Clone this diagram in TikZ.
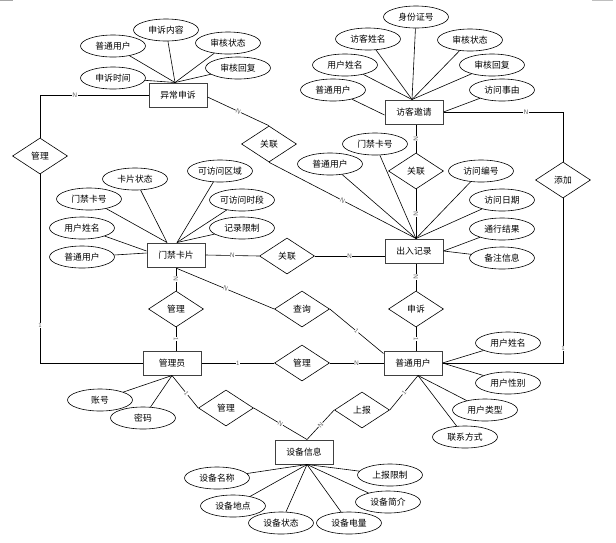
\documentclass[tikz,border=0pt]{standalone}
\usepackage{fontspec}
\newfontfamily\cjk{Noto Sans CJK SC}
\usetikzlibrary{shapes.geometric,calc}
\begin{document}
\begin{tikzpicture}[x=1pt,y=-1pt,
  every node/.style={font=\cjk\fontsize{8.8}{10}\selectfont},
  ent/.style={draw=black!75,line width=1pt,rectangle,minimum width=58pt,minimum height=24pt,inner sep=0pt},
  attr/.style={draw,ellipse,line width=0.6pt,minimum width=65pt,minimum height=22pt,inner sep=0pt},
  rel/.style={draw,diamond,line width=0.6pt,minimum width=55pt,minimum height=36pt,inner sep=0pt},
  lnk/.style={line width=0.6pt},
  mk/.style={font=\sffamily\fontsize{6.5}{7}\selectfont,text=black!60,fill=white,inner sep=0.4pt,sloped},
  mku/.style={font=\sffamily\fontsize{6.5}{7}\selectfont,text=black!60,fill=white,inner sep=0.4pt}]
\useasboundingbox (0,0) rectangle (616,542);
\fill[white] (0,0) rectangle (616,542);
\draw[black!35,line width=1pt] (0,0.5) coordinate (cm1) -- (13,0.5) coordinate (cm2);
\draw[black!25,line width=1pt] (592,0.5) coordinate (cm3) -- (613,0.5) coordinate (cm4);

% entities
\node[ent] (ycss) at (178,95) {异常申诉};
\node[ent] (fkyq) at (414,112) {访客邀请};
\node[ent] (mjkp) at (176,255) {门禁卡片};
\node[ent] (crjl) at (414,251) {出入记录};
\node[ent] (gly)  at (172,363) {管理员};
\node[ent] (ptyh) at (413,363) {普通用户};
\node[ent] (sbxx) at (304,452) {设备信息};

% relationships
\node[rel] (d1) at (40,156) {管理};
\node[rel] (d2) at (269,144) {关联};
\node[rel] (d3) at (416,171) {关联};
\node[rel] (d4) at (563,180) {添加};
\node[rel] (d5) at (287,256) {关联};
\node[rel] (d6) at (176,309) {管理};
\node[rel] (d7) at (302,309) {查询};
\node[rel] (d8) at (416,309) {申诉};
\node[rel] (d9) at (302,363) {管理};
\node[rel] (d10) at (226,408) {管理};
\node[rel] (d11) at (362,410) {上报};

% attributes of 异常申诉
\node[attr] (y1) at (113,46) {普通用户};
\node[attr] (y2) at (166,30) {申诉内容};
\node[attr] (y3) at (228,43) {审核状态};
\node[attr] (y4) at (238,68) {审核回复};
\node[attr] (y5) at (113,78) {申诉时间};
\coordinate (ycssT) at ($(ycss.north)+(-3,0)$);
\foreach \a in {y1,y2,y3,y4,y5} \draw[lnk] (\a) -- (ycssT);

% attributes of 访客邀请
\node[attr] (f1) at (416,17) {身份证号};
\node[attr] (f2) at (368,39) {访客姓名};
\node[attr] (f3) at (470,40) {审核状态};
\node[attr] (f4) at (345,65) {用户姓名};
\node[attr] (f5) at (492,65) {审核回复};
\node[attr] (f6) at (333,90) {普通用户};
\node[attr] (f7) at (502,90) {访问事由};
\coordinate (fkyqT) at ($(fkyq.north)+(-2,0)$);
\foreach \a in {f1,f2,f3,f4,f5} \draw[lnk] (\a) -- (fkyqT);
\draw[lnk] (f6) -- ($(fkyq.west)+(0,3)$);
\draw[lnk] (f7) -- (fkyq.east);

% attributes of 出入记录
\node[attr] (c1) at (375,144) {门禁卡号};
\node[attr] (c2) at (330,164) {普通用户};
\node[attr] (c3) at (481,171) {访问编号};
\node[attr] (c4) at (502,200) {访问日期};
\node[attr] (c5) at (502,229) {通行结果};
\node[attr] (c6) at (502,258) {备注信息};
\coordinate (crjlT) at ($(crjl.north)+(2,0)$);
\foreach \a in {c1,c2,c3,c4} \draw[lnk] (\a) -- (crjlT);
\draw[lnk] (c5) -- (crjl.east);
\draw[lnk] (c6) -- (crjl.east);

% attributes of 门禁卡片
\node[attr] (m1) at (135,179) {卡片状态};
\node[attr] (m2) at (220,171) {可访问区域};
\node[attr] (m3) at (89,199) {门禁卡号};
\node[attr] (m4) at (242,200) {可访问时段};
\node[attr] (m5) at (82,228) {用户姓名};
\node[attr] (m6) at (242,228) {记录限制};
\node[attr] (m7) at (82,257) {普通用户};
\coordinate (mjkpTL) at ($(mjkp.north)+(-9,0)$);
\coordinate (mjkpT) at ($(mjkp.north)+(1,0)$);
\draw[lnk] (m1) -- (mjkpTL);
\draw[lnk] (m3) -- (mjkpTL);
\foreach \a in {m2,m4,m6} \draw[lnk] (\a) -- (mjkpT);
\draw[lnk] (m5) -- ($(mjkp.west)+(0,-4)$);
\draw[lnk] (m7) -- ($(mjkp.west)+(0,-2)$);

% attributes of 管理员
\node[attr] (g1) at (100,400) {账号};
\node[attr] (g2) at (143,418) {密码};
\foreach \a in {g1,g2} \draw[lnk] (\a) -- (gly.south);

% attributes of 普通用户
\node[attr] (p1) at (508,343) {用户姓名};
\node[attr] (p2) at (508,383) {用户性别};
\node[attr] (p3) at (485,410) {用户类型};
\node[attr] (p4) at (465,437) {联系方式};
\draw[lnk] (p1) -- (ptyh.east);
\draw[lnk] (p2) -- (ptyh.east);
\coordinate (ptyhB) at ($(ptyh.south)+(5,0)$);
\draw[lnk] (p3) -- (ptyhB);
\draw[lnk] (p4) -- (ptyhB);

% attributes of 设备信息
\node[attr] (s1) at (217,478) {设备名称};
\node[attr] (s2) at (233,506) {设备地点};
\node[attr] (s3) at (281,523) {设备状态};
\node[attr] (s4) at (349,523) {设备电量};
\node[attr] (s5) at (388,502) {设备简介};
\node[attr] (s6) at (390,475) {上报限制};
\coordinate (sbxxB) at ($(sbxx.south)+(3,0)$);
\foreach \a in {s1,s2,s3,s4,s5,s6} \draw[lnk] (\a) -- (sbxxB);

% relationships connectors
\coordinate (sbxxT) at ($(sbxx.north)+(3,0)$);
\draw[lnk] (ycss.west) -- node[mku,pos=0.68]{N} (d1.north |- ycss.west) -- (d1.north);
\draw[lnk] (gly.west) -- (d1.south |- gly.west) -- node[mku,pos=0.2]{1} (d1.south);
\draw[lnk] ($(ycss.east)+(0,2)$) -- node[mk]{N} (d2.north);
\draw[lnk] (d2.south) -- node[mk]{N} (crjlT);
\draw[lnk] (d3.north |- fkyq.south) -- node[mk]{N} (d3.north);
\draw[lnk] (d3.south) -- node[mk]{N} (crjlT);
\draw[lnk] (fkyq.east) -- node[mku,pos=0.69]{N} (d4.north |- fkyq.east) -- (d4.north);
\draw[lnk] (ptyh.east) -- (d4.south |- ptyh.east) -- node[mku,pos=0.09]{1} (d4.south);
\draw[lnk] (mjkp.east) -- node[mk]{N} (d5.west);
\draw[lnk] (d5.east) -- node[mk]{N} (crjl.west |- d5.east);
\draw[lnk] (d6.north |- mjkp.south) -- node[mk]{N} (d6.north);
\draw[lnk] (d6.south) -- node[mk]{1} (d6.south |- gly.north);
\draw[lnk] ($(mjkp.south)+(1,1)$) -- node[mk]{N} (d7.west);
\draw[lnk] (d7.east) -- node[mk]{1} ($(ptyh.north west)+(0,3)$);
\draw[lnk] (d8.north |- crjl.south) -- node[mk]{N} (d8.north);
\draw[lnk] (d8.south) -- node[mk]{1} (d8.south |- ptyh.north);
\draw[lnk] (gly.east) -- node[mku]{1} (d9.west);
\draw[lnk] (d9.east) -- node[mku]{N} (ptyh.west);
\draw[lnk] (gly.south) -- node[mk,pos=0.55]{1} (d10.west);
\draw[lnk] (d10.east) -- node[mk]{N} (sbxxT);
\draw[lnk] (d11.west) -- node[mk]{N} (sbxxT);
\draw[lnk] (d11.east) -- node[mk]{1} ($(ptyh.south)+(5,0)$);
\end{tikzpicture}
\end{document}
